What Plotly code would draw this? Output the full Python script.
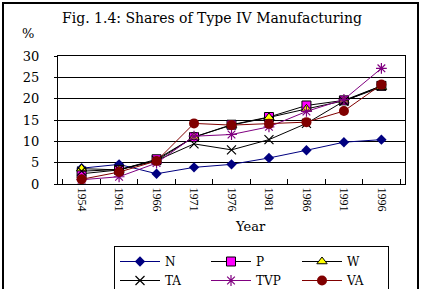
import plotly.graph_objects as go

years = ["1954", "1961", "1966", "1971", "1976", "1981", "1986", "1991", "1996"]
N = [3.7, 4.6, 2.4, 3.9, 4.6, 6.1, 7.9, 9.8, 10.4]
P = [2.4, 3.3, 5.8, 11.0, 13.9, 15.7, 18.4, 19.6, 23.0]
W = [3.6, 3.3, 5.5, 11.0, 13.8, 15.6, 17.6, 19.5, 22.7]
TA = [3.0, 3.4, 5.5, 9.4, 8.0, 10.4, 14.2, 19.4, 23.0]
TVP = [1.0, 1.7, 4.9, 11.2, 11.6, 13.4, 17.0, 19.8, 27.1]
VA = [1.1, 2.8, 5.4, 14.2, 13.8, 14.1, 14.5, 17.1, 23.3]

series = [
    ("N", N, "#000080", dict(symbol="diamond", size=8, color="#000080")),
    ("P", P, "#000000", dict(symbol="square", size=9, color="#FF00FF", line=dict(color="#000000", width=1))),
    ("W", W, "#000000", dict(symbol="triangle-up", size=9, color="#FFFF00", line=dict(color="#000000", width=1))),
    ("TA", TA, "#000000", dict(symbol="x-thin-open", size=9, color="#000000", line=dict(color="#000000", width=1.2))),
    ("TVP", TVP, "#800080", dict(symbol="asterisk-open", size=9, color="#800080", line=dict(color="#800080", width=1.2))),
    ("VA", VA, "#800000", dict(symbol="circle", size=10, color="#800000")),
]

fig = go.Figure()
for name, vals, col, mk in series:
    fig.add_trace(go.Scatter(x=years, y=vals, name=name, mode="lines+markers",
                             line=dict(color=col, width=1), marker=mk))

L, R, T, B = 58, 17, 56, 105
W_px, H_px = 422, 289
pw, ph = W_px - L - R, H_px - T - B

def px(x):
    return (x - L) / pw

def py(y):
    return (H_px - B - y) / ph

serif = "Liberation Serif, Times New Roman, serif"
wide = "DejaVu Serif, serif"
fig.update_layout(
    width=W_px, height=H_px,
    margin=dict(l=L, r=R, t=T, b=B),
    paper_bgcolor="white", plot_bgcolor="white",
    font=dict(family=wide, size=13, color="black"),
    showlegend=True,
    legend=dict(orientation="h", xref="container", yref="container",
                x=114 / W_px, y=1 - 246 / H_px, xanchor="left", yanchor="top",
                entrywidth=36, entrywidthmode="pixels", itemwidth=40,
                bordercolor="black", borderwidth=1, font=dict(size=12, family=wide),
                bgcolor="white"),
    xaxis=dict(type="category", showgrid=False, showline=True, linecolor="black", linewidth=1,
               mirror=True, ticks="inside", tickson="boundaries", ticklen=5, tickcolor="black",
               tickangle=90, tickfont=dict(size=12, family=serif)),
    yaxis=dict(range=[0, 30], dtick=5, showgrid=True, gridcolor="black", gridwidth=1,
               showline=True, linecolor="black", linewidth=1, mirror=True,
               ticks="outside", ticklen=3, tickcolor="black", zeroline=False,
               ticklabelstandoff=12,
               tickfont=dict(size=13, family=wide)),
)

fig.add_annotation(text="Fig. 1.4: Shares of Type IV Manufacturing", xref="paper", yref="paper",
                   x=px(212), y=py(18), showarrow=False, xanchor="center", yanchor="middle",
                   font=dict(size=14, family=wide))
fig.add_annotation(text="%", xref="paper", yref="paper", x=px(28), y=py(33), showarrow=False,
                   xanchor="center", yanchor="middle", font=dict(size=13, family=wide))
fig.add_annotation(text="Year", xref="paper", yref="paper", x=px(250), y=py(226), showarrow=False,
                   xanchor="center", yanchor="middle", font=dict(size=13, family=wide))
fig.add_shape(type="rect", xref="paper", yref="paper", x0=px(3), x1=px(418), y0=py(296), y1=py(3),
              line=dict(color="black", width=2), fillcolor="rgba(0,0,0,0)", layer="below")

fig.write_html("out.html")
